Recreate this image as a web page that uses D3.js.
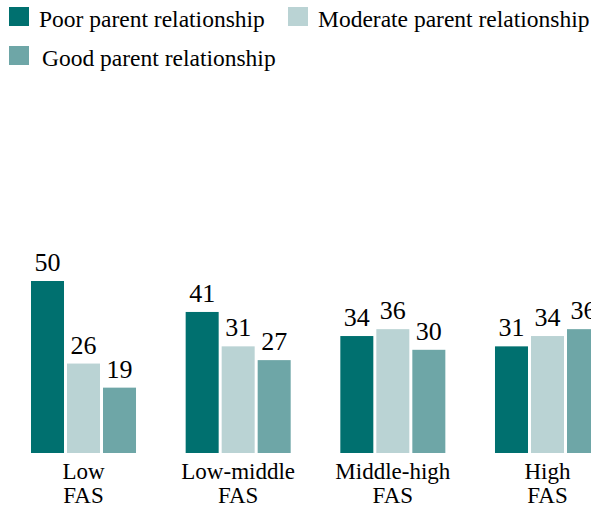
<!DOCTYPE html>
<html>
<head>
<meta charset="utf-8">
<script src="https://cdn.jsdelivr.net/npm/d3@7"></script>
<style>
  body { margin: 0; background: #fff; }
</style>
</head>
<body>
<div id="chart"></div>
<script>
// categories and series
const categories = ["Low FAS", "Low-middle FAS", "Middle-high FAS", "High FAS"];
const series = ["Poor parent relationship", "Moderate parent relationship", "Good parent relationship"];
const poorValues = [50, 41, 34, 31];
const moderateValues = [26, 31, 36, 34];
const goodValues = [19, 27, 30, 36];
const colors = ["#00706f", "#bad3d4", "#6ea6a7"];

const width = 591, height = 512;
const serif = "'Liberation Serif'";

const svg = d3.select("#chart")
    .append("svg")
    .attr("width", width)
    .attr("height", height);

// build rows from the arrays
const data = categories.map((c, i) => ({
    category: c,
    values: [poorValues[i], moderateValues[i], goodValues[i]]
}));

// group scale
const x0 = d3.scaleBand()
    .domain(categories)
    .range([31, 600])
    .paddingInner(0.321)
    .paddingOuter(0);

// bar-within-group scale
const x1 = d3.scaleBand()
    .domain(series)
    .range([0, x0.bandwidth()])
    .paddingInner(0.0833)
    .paddingOuter(0);

const y = d3.scaleLinear()
    .domain([0, 50])
    .range([453, 281]);

const color = d3.scaleOrdinal()
    .domain(series)
    .range(colors);

// bars
const groups = svg.append("g")
    .selectAll("g")
    .data(data)
    .enter()
    .append("g")
    .attr("transform", d => `translate(${x0(d.category)},0)`);

const cells = groups.selectAll("g")
    .data(d => d.values.map((v, j) => ({ key: series[j], value: v })))
    .enter()
    .append("g");

cells.append("rect")
    .attr("x", d => x1(d.key))
    .attr("y", d => y(d.value))
    .attr("width", x1.bandwidth())
    .attr("height", d => y(0) - y(d.value))
    .attr("fill", d => color(d.key));

cells.append("text")
    .attr("x", d => x1(d.key) + x1.bandwidth() / 2)
    .attr("y", d => y(d.value) - 10)
    .attr("text-anchor", "middle")
    .attr("font-family", serif)
    .attr("font-size", 26)
    .attr("fill", "#000")
    .text(d => d.value);

// category labels (two lines)
const labels = svg.append("g")
    .selectAll("text")
    .data(categories)
    .enter()
    .append("text")
    .attr("text-anchor", "middle")
    .attr("font-family", serif)
    .attr("font-size", 23)
    .attr("fill", "#000")
    .attr("transform", d => `translate(${x0(d) + x0.bandwidth() / 2},479)`);

labels.each(function (d) {
    const parts = d.split(" ");
    const t = d3.select(this);
    t.append("tspan").attr("x", 0).attr("y", 0).text(parts[0]);
    t.append("tspan").attr("x", 0).attr("y", 24).text(parts.slice(1).join(" "));
});

// legend
const legendPos = [[9, 7], [288, 7], [9, 46]];
const legend = svg.append("g")
    .selectAll("g")
    .data(series)
    .enter()
    .append("g")
    .attr("transform", (d, i) => `translate(${legendPos[i][0]},${legendPos[i][1]})`);

legend.append("rect")
    .attr("width", 20)
    .attr("height", 19)
    .attr("fill", d => color(d));

legend.append("text")
    .attr("x", (d, i) => i === 2 ? 33 : 30)
    .attr("y", 20)
    .attr("font-family", serif)
    .attr("font-size", 23.5)
    .attr("fill", "#000")
    .text(d => d);
</script>
</body>
</html>
